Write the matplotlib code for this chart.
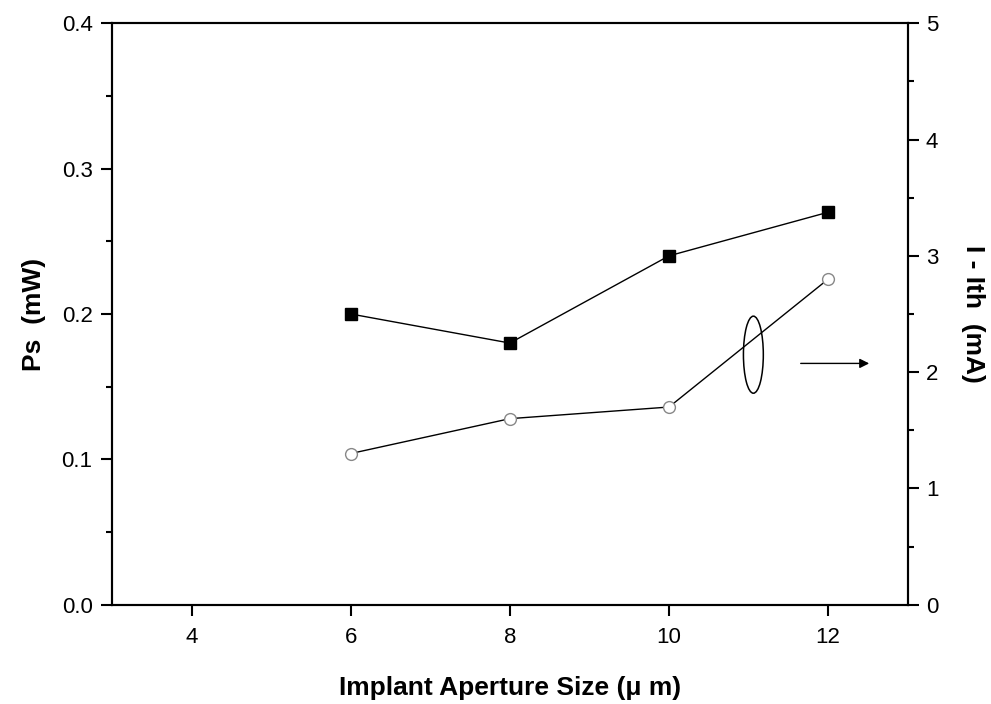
import matplotlib

matplotlib.use("Agg")

import matplotlib.pyplot as plt
from matplotlib.patches import Ellipse
from matplotlib.ticker import MultipleLocator

plt.rcParams["font.family"] = ["Liberation Sans", "DejaVu Sans"]

aperture = [6, 8, 10, 12]
ps_mw = [0.200, 0.180, 0.240, 0.270]
i_minus_ith = [1.30, 1.60, 1.70, 2.80]

fig = plt.figure(figsize=(9.91, 7.04), dpi=100)
ax = fig.add_axes([0.113, 0.141, 0.803, 0.826])
ax2 = ax.twinx()

ax.plot(aperture, ps_mw, color="black", lw=1.0, marker="s", ms=8,
        mfc="black", mec="black")
ax2.plot(aperture, i_minus_ith, color="black", lw=1.0, marker="o", ms=8.5,
         mfc="white", mec="#888888", mew=1.0)

ax.set_xlim(3, 13)
ax.set_ylim(0, 0.4)
ax2.set_ylim(0, 5)
ax.xaxis.set_major_locator(MultipleLocator(2))
ax.yaxis.set_major_locator(MultipleLocator(0.1))
ax.yaxis.set_minor_locator(MultipleLocator(0.05))
ax2.yaxis.set_major_locator(MultipleLocator(1))
ax2.yaxis.set_minor_locator(MultipleLocator(0.5))
ax.yaxis.set_major_formatter(plt.FuncFormatter(lambda v, p: f"{v:.1f}"))

for a in (ax, ax2):
    a.tick_params(which="major", direction="out", length=8, width=1.5,
                  labelsize=16, pad=6)
    a.tick_params(which="minor", direction="out", length=4.5, width=1.5)
    for s in a.spines.values():
        s.set_linewidth(1.5)
ax.tick_params(axis="x", pad=8)
ax2.tick_params(axis="y", pad=5)

ax.set_xlabel("Implant Aperture Size (\u03bc m)", fontsize=19, fontweight="bold",
              labelpad=20)
ax.set_ylabel("Ps  (mW)", fontsize=19, fontweight="bold", labelpad=11)
ax2.set_ylabel("I - Ith  (mA)", fontsize=19, fontweight="bold", labelpad=16,
               rotation=270, va="bottom")

# ellipse marking the open-circle series, arrow pointing to its axis
ax.add_patch(Ellipse((11.06, 0.172), 0.25, 0.053, fill=False, ec="black", lw=1.1))
ax.annotate("", xy=(12.55, 0.166), xytext=(11.62, 0.166),
            arrowprops=dict(arrowstyle="-|>", color="black", lw=1.0,
                            mutation_scale=14))

fig.savefig("out.png", dpi=100)
